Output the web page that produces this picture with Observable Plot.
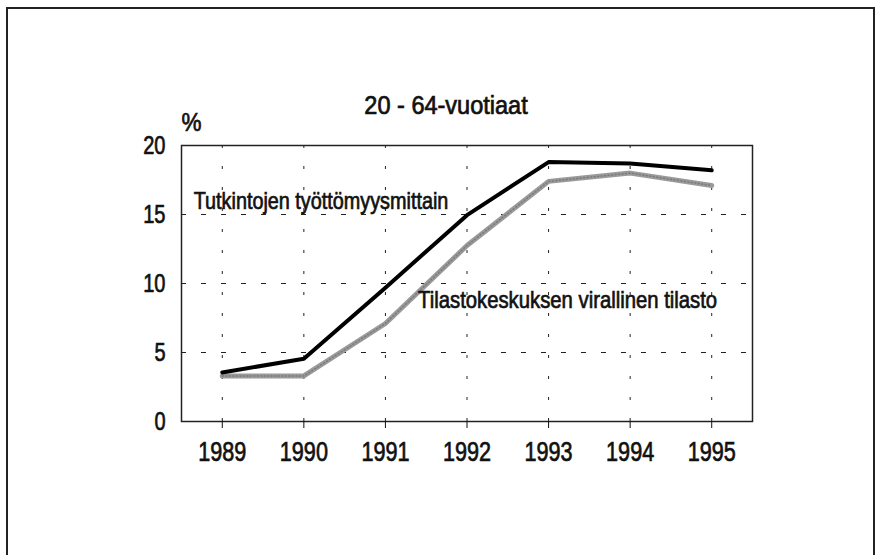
<!DOCTYPE html>
<html>
<head>
<meta charset="utf-8">
<script src="https://cdn.jsdelivr.net/npm/d3@7"></script>
<script src="https://cdn.jsdelivr.net/npm/@observablehq/plot@0.6"></script>
<style>
  html, body { margin: 0; padding: 0; background: #fff; }
  #wrap { position: relative; width: 892px; height: 555px; overflow: hidden; }
  #border { position: absolute; left: 6px; top: 7px; width: 865px; height: 560px;
            border-top: 2px solid #222; border-left: 2px solid #222; border-right: 2px solid #222; }
  #chart { position: absolute; left: 0; top: 0; }
</style>
</head>
<body>
<div id="wrap"><div id="border"></div><div id="chart"></div></div>
<script>
const years = [1989, 1990, 1991, 1992, 1993, 1994, 1995];
const tutkinto = [3.55, 4.55, 9.7, 14.95, 18.8, 18.7, 18.2];
const tilasto = [3.3, 3.3, 7.1, 12.75, 17.4, 18.0, 17.1];
const yTicks = [0, 5, 10, 15, 20];
const gridY = [5, 10, 15];
const titleText = "20 - 64-vuotiaat";
const unitText = "%";
const seriesLabels = ["Tutkintojen työttömyysmittain", "Tilastokeskuksen virallinen tilasto"];
const labelX = [1988.65, 1991.4];
const labelY = [15.43, 8.26];

const font = "'Liberation Sans', Arial, sans-serif";

const rows1 = years.map((y, i) => ({year: y, value: tutkinto[i]}));
const rows2 = years.map((y, i) => ({year: y, value: tilasto[i]}));
const labels = seriesLabels.map((t, i) => ({text: t, x: labelX[i], y: labelY[i]}));

const chart = Plot.plot({
  width: 892,
  height: 555,
  marginLeft: 181,
  marginRight: 140,
  marginTop: 145,
  marginBottom: 134,
  x: {domain: [1988.5, 1995.5]},
  y: {domain: [0, 20]},
  style: {fontFamily: font, fontSize: "24px", background: "transparent", color: "#111"},
  marks: [
    Plot.ruleY(gridY, {stroke: "#222", strokeWidth: 1, strokeDasharray: "5,15"}),
    Plot.ruleX(years, {stroke: "#222", strokeWidth: 1, strokeDasharray: "3,18"}),
    Plot.frame({stroke: "#222", strokeWidth: 1.5}),
    Plot.axisY(yTicks, {tickSize: 0, tickPadding: 16, fontSize: 25, label: null}),
    Plot.axisX(years, {tickSize: 7, tickPadding: 13, fontSize: 27, tickFormat: d => String(d), label: null}),
    Plot.line(rows2, {x: "year", y: "value", stroke: "#9a9a9a", strokeWidth: 5}),
    Plot.line(rows2, {x: "year", y: "value", stroke: "#6e6e6e", strokeWidth: 1.5, strokeDasharray: "1,2.5", strokeOpacity: 0.7}),
    Plot.line(rows1, {x: "year", y: "value", stroke: "#000", strokeWidth: 4}),
    Plot.text(labels, {x: "x", y: "y", text: "text", textAnchor: "start", lineAnchor: "bottom", fontSize: 24, fill: "#111"}),
    Plot.text([unitText], {frameAnchor: "top-left", dy: -15, textAnchor: "start", lineAnchor: "bottom", fontSize: 25, fill: "#111"}),
    Plot.text([titleText], {frameAnchor: "top", dx: -21, dy: -32, lineAnchor: "bottom", fontSize: 25, fill: "#111"})
  ]
});
document.getElementById("chart").appendChild(chart);

// condensed look: squeeze glyphs horizontally and thicken strokes slightly
d3.select(chart).selectAll("text").each(function() {
  const t = this.textContent;
  let k = 0.825;
  if (/^[0-9]+$/.test(t)) k = 0.8;
  else if (t === titleText) k = 0.94;
  else if (t === unitText) k = 0.9;
  else if (t === seriesLabels[1]) k = 0.845;
  const w = this.getComputedTextLength();
  this.setAttribute("textLength", (w * k).toFixed(1));
  this.setAttribute("lengthAdjust", "spacingAndGlyphs");
  this.setAttribute("stroke", "#111");
  this.setAttribute("stroke-width", "0.7");
});
</script>
</body>
</html>
